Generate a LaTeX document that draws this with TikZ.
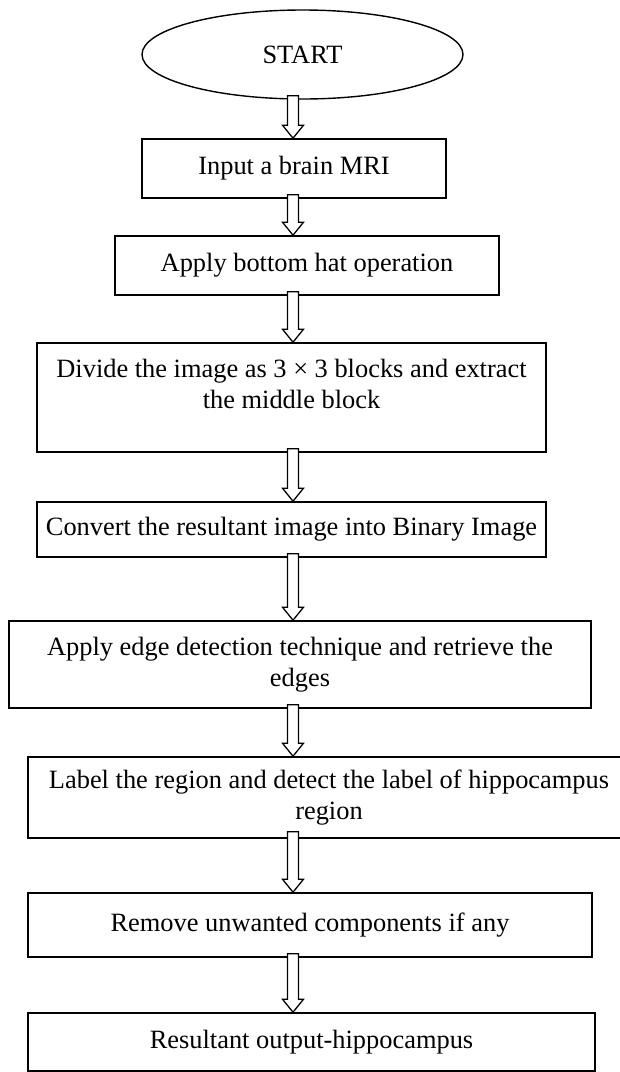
\documentclass[tikz,border=0pt]{standalone}
\usepackage{fontspec}
\setmainfont{Liberation Serif}
\usetikzlibrary{calc,shapes.geometric}

% hollow block arrow from the bottom of #2 to the top of #3, on the spine
\newcommand{\blockarr}[3][4]{%
  \draw[hollow] ($(#2.south -| spine)+(-5.5,#1)$) -- ($(#3.north -| spine)+(-5.5,13)$)
    -- ++(-5,0) -- (#3.north -| spine) -- ++(10.5,13) -- ++(-5,0)
    -- ($(#2.south -| spine)+(5.5,#1)$) -- cycle;}

\begin{document}
\begin{tikzpicture}[x=1pt, y=1pt,
    every node/.style={font=\fontsize{26.4}{31}\selectfont},
    box/.style={draw, line width=1.6pt, align=center, inner sep=0pt},
    hollow/.style={draw, fill=white, line width=1.3pt, line join=miter}]
        \useasboundingbox (0,0) rectangle (620,-1072);
        \coordinate (spine) at (293,0);
        \node[ellipse, draw, line width=1.4pt, minimum width=321, minimum height=89, inner sep=0pt] (start) at (302.5,-54.5) {START};
        \node[box, minimum width=304, minimum height=59] (input) at (294,-168.5) {Input a brain MRI};
        \node[box, minimum width=384, minimum height=59] (bothat) at (307,-265.5) {Apply bottom hat operation};
        \node[box, minimum width=509, minimum height=109, text depth=27pt] (divide) at (291.5,-397.5) {Divide the image as 3 × 3 blocks and extract\\the middle block};
        \node[box, minimum width=509, minimum height=55] (binary) at (291.5,-529.5) {Convert the resultant image into Binary Image};
        \node[box, minimum width=582, minimum height=87] (edges) at (300,-664.5) {Apply edge detection technique and retrieve the\\edges};
        \node[box, minimum width=602, minimum height=81] (label) at (329,-797.5) {Label the region and detect the label of hippocampus\\region};
        \node[box, minimum width=564, minimum height=64] (remove) at (310,-925) {Remove unwanted components if any};
        \node[box, minimum width=567, minimum height=58] (result) at (311.5,-1042) {Resultant output-hippocampus};
        \blockarr{start}{input}
        \blockarr{input}{bothat}
        \blockarr{bothat}{divide}
        \blockarr{divide}{binary}
        \blockarr{binary}{edges}
        \blockarr{edges}{label}
        \blockarr[7]{label}{remove}
        \blockarr{remove}{result}
      \end{tikzpicture}
\end{document}
